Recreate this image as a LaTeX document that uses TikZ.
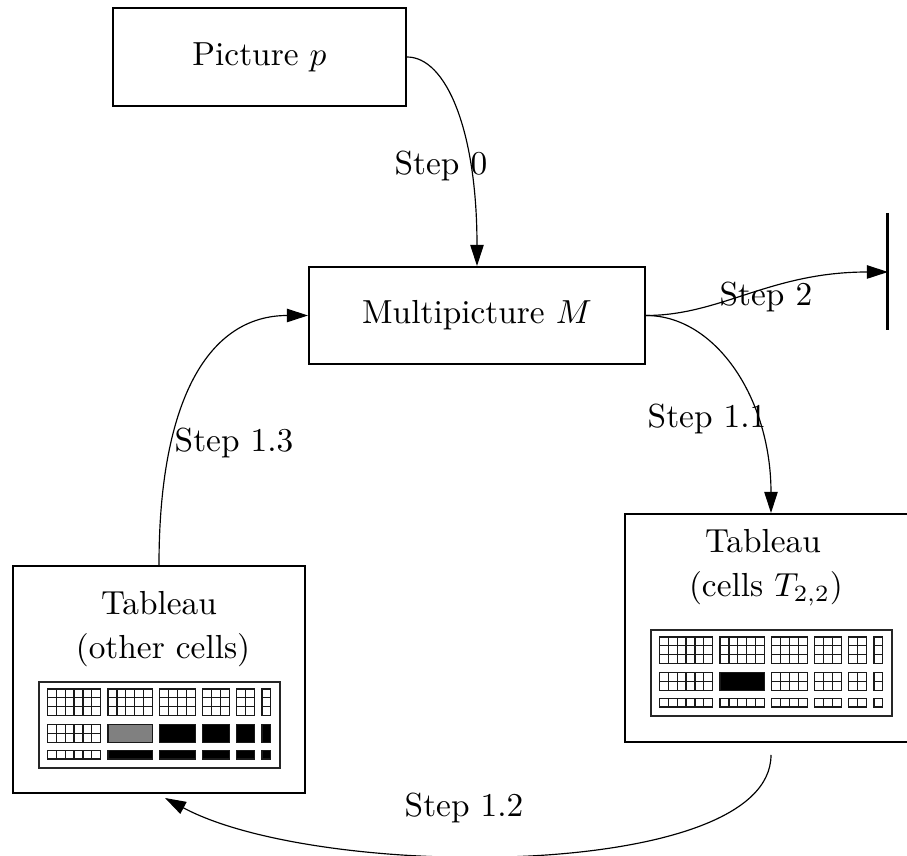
\documentclass[tikz,border=0pt]{standalone}
\usepackage{tikz}
\usetikzlibrary{positioning}
\usetikzlibrary{arrows.meta}

\begin{document}
\begin{tikzpicture}[x=0.3pt,y=-0.3pt,
  every node/.style={font=\fontsize{10}{12}\selectfont},
  framebox/.style={draw,line width=0.6pt,inner sep=0pt},
  tabframe/.style={draw=black!85,line width=0.4pt},
  cellline/.style={draw=black!90,line width=0.38pt},
  flow/.style={line width=0.35pt,-{Triangle[length=6.3pt,width=4pt]}},
  steplabel/.style={inner sep=0pt}]
\newcommand{\Px}{0.3pt}
\newcommand{\Cell}{8.85}
\newcommand{\Tableau}{%
  \draw[tabframe] (0,0) rectangle (241,86);% outer frame
  \foreach \ncol/\xs in {6/8.5,5/69.1,4/120.85,3/163.75,2/197.8,1/223}{
    \foreach \nrow/\ys in {3/7,2/42.55,1/68.25}{
      \foreach \cx in {1,...,\ncol}{
        \foreach \ry in {1,...,\nrow}{
          \draw[cellline] ({\xs+(\cx-1)*\Cell},{\ys+(\ry-1)*\Cell}) rectangle ++(\Cell,\Cell);
        }
      }
    }
  }%
}

\useasboundingbox (0,0) rectangle (907,856);
\clip (0,0) rectangle (907,856);

\node[framebox,minimum width=293*\Px,minimum height=98*\Px] (picp) at (259.5,57) {Picture $p$};
\node[framebox,minimum width=336*\Px,minimum height=97*\Px] (mpic) at (477,315.5) {Multipicture $M$};
\node[framebox,minimum width=292*\Px,minimum height=227*\Px] (ltab) at (159,679.5) {};
\node[framebox,minimum width=292*\Px,minimum height=228*\Px] (rtab) at (771,628) {};

\node[anchor=base] (ltabhead) at (159,615) {Tableau};
\node[anchor=base] (ltabsub) at (163,659) {(other cells)};
\node[anchor=base] (rtabhead) at (763,553) {Tableau};
\node[anchor=base] (rtabsub) at (766,597) {(cells $T_{2,2}$)};

\begin{scope}[shift={(39,682)}]% left tableau
  \Tableau
  \filldraw[cellline,fill=gray] (69.1,42.55) rectangle ++(44.25,17.7);
  \foreach \xs/\w in {120.85/35.4,163.75/26.55,197.8/17.7,223/8.85}
    \filldraw[cellline,fill=black] (\xs,42.55) rectangle ++(\w,17.7);
  \foreach \xs/\w in {69.1/44.25,120.85/35.4,163.75/26.55,197.8/17.7,223/8.85}
    \filldraw[cellline,fill=black] (\xs,68.25) rectangle ++(\w,8.85);
\end{scope}
\begin{scope}[shift={(651,630)}]% right tableau
  \Tableau
  \filldraw[cellline,fill=black] (69.1,42.55) rectangle ++(44.25,17.7);
\end{scope}

\coordinate (bartop) at (888,213);
\coordinate (barbot) at (888,330);
\coordinate (stop) at (888,272);
\draw[line width=0.9pt] (bartop) -- (barbot);% end bar

\draw[flow] (picp.east) .. controls +(39,0) and +(0,-136) .. (mpic.north);% Step 0
\draw[flow] (mpic.east) .. controls +(75,0) and +(-118,0) .. (stop);% Step 2
\draw[flow] (mpic.east) .. controls +(70,0) and +(0,-114) .. (rtab.north);% Step 1.1
\draw[flow] ([shift={(0,12)}]rtab.south) .. controls +(0,126) and +(155,83) .. ([shift={(6,4)}]ltab.south);% Step 1.2
\draw[flow] (ltab.north) .. controls +(0,-166) and +(-99,0) .. (mpic.west);% Step 1.3

\node[steplabel] (lblzero) at (441,166) {Step 0};
\node[steplabel] (lbltwo) at (766,297) {Step 2};
\node[steplabel] (lbloneone) at (707,419) {Step 1.1};
\node[steplabel] (lblonetwo) at (464,808) {Step 1.2};
\node[steplabel] (lblonethree) at (234,443) {Step 1.3};
\end{tikzpicture}
\end{document}
